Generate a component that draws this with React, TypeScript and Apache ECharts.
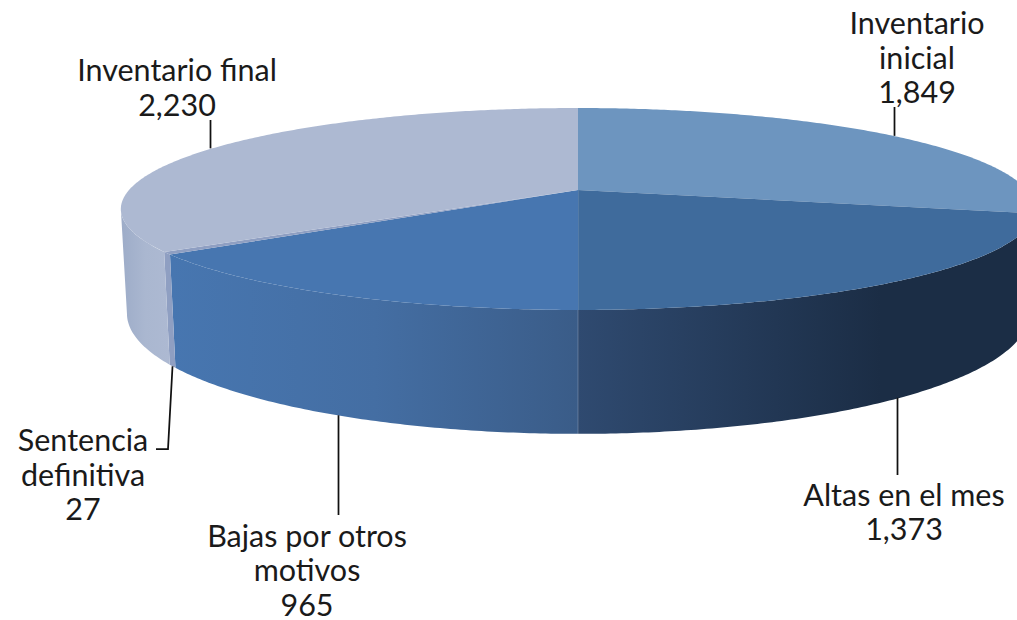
import React, { useEffect, useRef } from "react";
import * as echarts from "echarts";

const categories = ["Inventario\ninicial", "Altas en el mes", "Bajas por otros\nmotivos", "Sentencia\ndefinitiva", "Inventario final"];
const values = [1849, 1373, 965, 27, 2230];

const topColors = ["#6d95bf", "#3f6b9c", "#4776b0", "#8f9fc2", "#adb9d2"];
const wallStops: [number, number, [number, string][]][] = [
  [800, 1017, [[0, "#2f4a6f"], [1, "#2f4a6f"]]],
  [578, 1017, [[0, "#2f4a70"], [0.69, "#1b2d45"], [1, "#1b2d45"]]],
  [172, 578, [[0, "#4776b0"], [0.5, "#446ea3"], [1, "#3a5c88"]]],
  [166, 176, [[0, "#8f9fc2"], [1, "#8f9fc2"]]],
  [121, 170, [[0, "#9dacc8"], [0.5, "#aab7d0"], [1, "#adb9d2"]]],
];
// label centre and leader-line outer end, per slice
const labelAt: [number, number][] = [[917, 56.5], [904, 511], [307, 569], [83, 473.5], [177, 86.5]];
const leaderEnd: [number, number][][] = [
  [[894.5, 107]],
  [[897.5, 475]],
  [[338.5, 515]],
  [[168, 449], [156, 449]],
  [[210.5, 120]],
];
const leaderOnTopRim = [true, false, false, false, true];

const total = values.reduce((a, b) => a + b, 0);
const angleAt = (i: number) => (values.slice(0, i).reduce((a, b) => a + b, 0) / total) * Math.PI * 2;

const K = 0.188;
const CX = 578;
const LINE_STEP = 34.5;
const topPt = (t: number): [number, number] => {
  const d = 1 + K * Math.cos(t);
  return [CX + (449 * Math.sin(t)) / d, 190 - (97.4 * Math.cos(t)) / d];
};
const botPt = (t: number): [number, number] => {
  const d = 1 + K * Math.cos(t);
  return [CX + (443 * Math.sin(t)) / d, 291 - (116 * Math.cos(t)) / d];
};
const arc = (f: (t: number) => [number, number], a: number, b: number) => {
  const n = Math.max(2, Math.ceil(Math.abs(b - a) / 0.01));
  return Array.from({ length: n + 1 }, (_, i) => f(a + ((b - a) * i) / n));
};
// the silhouette of the cylinder: where the rim turns from back to front
const FRONT_MIN = Math.acos(-K);
const FRONT_MAX = 2 * Math.PI - FRONT_MIN;

const renderWall = (params: any) => {
  const i = params.dataIndex;
  const a = Math.max(angleAt(i), FRONT_MIN);
  const b = Math.min(angleAt(i + 1), FRONT_MAX);
  if (b <= a) return { type: "group", children: [] };
  const [x0, x1, stops] = wallStops[i];
  return {
    type: "group",
    children: [
      {
        type: "polygon",
        shape: { points: [...arc(topPt, a, b), ...arc(botPt, b, a)] },
        style: {
          fill: new echarts.graphic.LinearGradient(x0, 0, x1, 0, stops.map(([offset, color]) => ({ offset, color })), true),
        },
      },
    ],
  };
};

const renderTop = (params: any, api: any) => {
  const i = params.dataIndex;
  const a = angleAt(i);
  const b = angleAt(i + 1);
  const mid = (a + b) / 2;
  const rim = leaderOnTopRim[i] ? topPt(mid) : botPt(mid);
  const ends = leaderEnd[i];
  const start: [number, number] = ends.length === 1 ? [ends[0][0], rim[1]] : rim;
  const lines = `${categories[i]}\n${Number(api.value(0)).toLocaleString("en-US")}`.split("\n");
  const children: any[] = [
    {
      type: "polygon",
      shape: { points: [[CX, 190], ...arc(topPt, a, b)] },
      style: { fill: topColors[i] },
    },
    {
      type: "polyline",
      shape: { points: [start, ...ends] },
      style: { stroke: "#111111", lineWidth: 1.75, fill: "none" },
    },
    ...lines.map((text, k) => ({
      type: "text",
      x: labelAt[i][0],
      y: labelAt[i][1] + (k - (lines.length - 1) / 2) * LINE_STEP,
      style: {
        text,
        align: "center",
        verticalAlign: "middle",
        fontFamily: "Lato",
        fontSize: 30.5,
        lineHeight: 26,
        fill: "#1a1a1a",
      },
    })),
  ];
  if (i === 1) {
    const w = botPt(b);
    children.push({
      type: "line",
      shape: { x1: CX, y1: 190, x2: w[0], y2: w[1] },
      style: { stroke: "rgba(255,255,255,0.22)", lineWidth: 1 },
    });
  }
  return { type: "group", children };
};

export default function App() {
  const ref = useRef<HTMLDivElement>(null);
  useEffect(() => {
    document.body.style.margin = "0";
    const chart = echarts.init(ref.current!, undefined, { renderer: "svg" });
    const data = values.map((v, i) => ({ name: categories[i], value: [v] }));
    chart.setOption({
      animation: false,
      backgroundColor: "#ffffff",
      series: [
        { type: "custom", coordinateSystem: "none", z: 1, silent: true, renderItem: renderWall, data },
        { type: "custom", coordinateSystem: "none", z: 2, silent: true, renderItem: renderTop, data },
      ],
    });
    return () => chart.dispose();
  }, []);
  return <div ref={ref} style={{ position: "absolute", left: 0, top: 0, width: 1017, height: 620, overflow: "hidden" }} />;
}
